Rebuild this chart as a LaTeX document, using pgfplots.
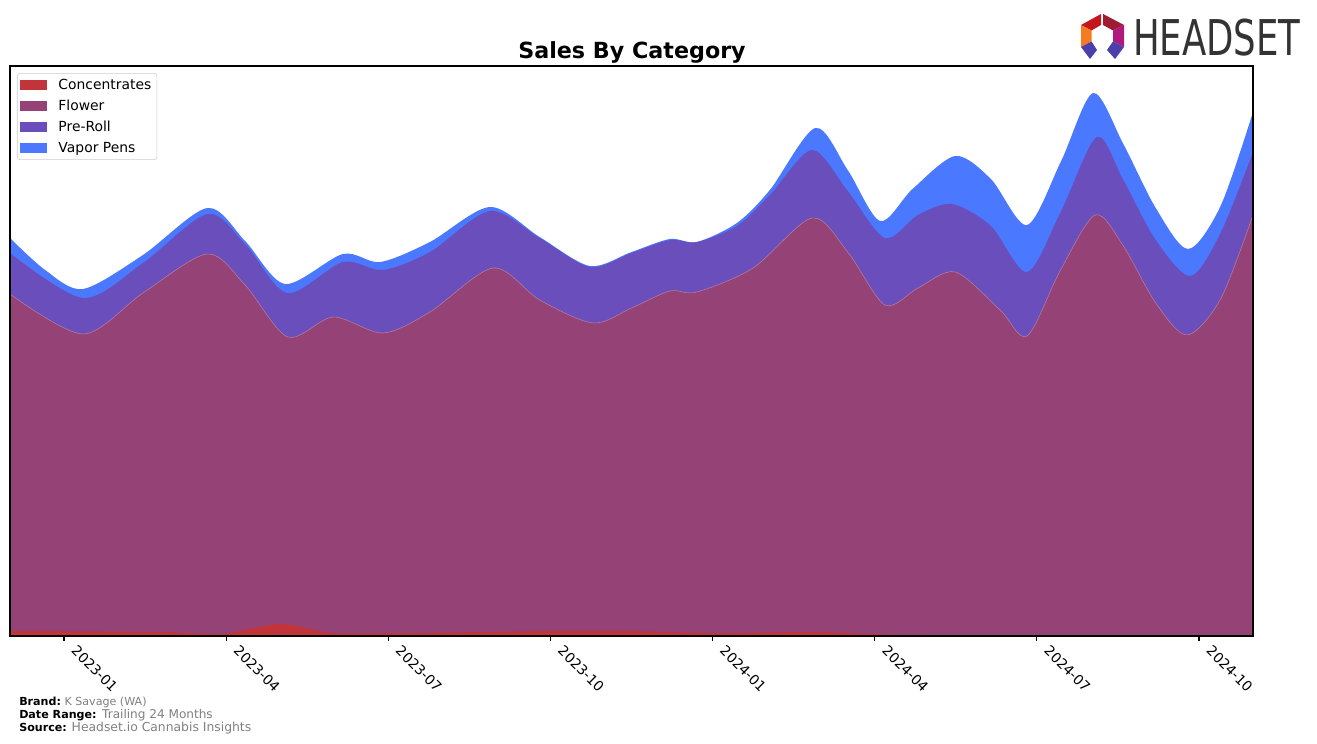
\documentclass[border=0pt]{standalone}
\usepackage{fontspec}
\setmainfont{DejaVu Sans}
\usepackage{pgfplots}
\pgfplotsset{compat=1.18}

\definecolor{conc}{RGB}{192,52,58}
\definecolor{flower}{RGB}{149,66,119}
\definecolor{preroll}{RGB}{106,79,188}
\definecolor{vapor}{RGB}{74,120,255}
\definecolor{footgray}{RGB}{128,128,128}
\definecolor{logogray}{RGB}{51,51,51}
\definecolor{logoA}{RGB}{196,22,28}
\definecolor{logoB}{RGB}{158,27,50}
\definecolor{logoC}{RGB}{176,25,126}
\definecolor{logoD}{RGB}{244,123,32}
\definecolor{logoE}{RGB}{75,63,170}

\begin{document}
\begin{tikzpicture}
% page = 1317 x 744 px, 1 px = 0.72 pt, axis origin at px (10,636)
\path[use as bounding box] (-7.2pt,-77.76pt) rectangle (941.04pt,457.92pt);

\begin{axis}[
  at={(0pt,0pt)}, anchor=south west,
  scale only axis, width=894.96pt, height=410.4pt,
  xmin=0, xmax=23, ymin=0, ymax=570,
  axis on top,
  ytick=\empty,
  xtick={1,4,7,10,13,16,19,22},
  xticklabels={2023-01,2023-04,2023-07,2023-10,2024-01,2024-04,2024-07,2024-10},
  xticklabel style={xshift=10pt, yshift=-1pt, rotate=-45, anchor=north west,
    font=\fontsize{10}{12}\selectfont, inner sep=1pt},
  xtick pos=left,
  tick align=outside, major tick length=3.5pt,
  tick style={black, line width=0.8pt},
  axis line style={line width=0.8pt},
  legend style={at={(0.0056,0.9877)}, anchor=north west,
    draw={rgb,255:red,204;green,204;blue,204}, rounded corners=2pt,
    font=\fontsize{10}{12}\selectfont, inner sep=2pt, row sep=2.1pt},
  legend cell align=left,
  reverse legend,
  legend image code/.code={\path[#1,draw=none,sharp corners] (1.5pt,-3.5pt) rectangle (21pt,3.5pt); \path (27pt,0pt);},
]
% cumulative tops (months since 2022-12), drawn back to front
\addplot[fill=vapor, draw=none, smooth] coordinates {
  (0,398) (0.65,366) (1.35,347) (2.46,381) (3.65,428) (4.35,395) (5.09,352)
  (6.16,382) (6.85,374) (7.77,394) (8.88,429) (9.8,399) (10.73,370) (11.5,384)
  (12.21,397) (12.71,394) (13.45,413) (14.06,446) (14.90,508) (15.5,466) (16.10,415)
  (16.7,447) (17.49,480) (18.15,457) (18.82,411) (19.45,475) (20.04,543) (20.6,492)
  (21.2,428) (21.8,387) (22.4,430) (23,524)
} \closedcycle;
\addlegendentry{Vapor Pens}

\addplot[fill=preroll, draw=none, smooth] coordinates {
  (0,383) (1.35,338) (2.46,373) (3.65,422) (4.35,392) (5.13,343) (6.16,374)
  (6.90,366) (7.77,384) (8.88,425) (9.8,398) (10.73,369) (11.5,383) (12.21,396)
  (12.71,394) (13.45,410) (14.06,441) (14.84,486) (15.5,445) (16.19,398) (16.8,421)
  (17.43,432) (18.15,410) (18.82,364) (19.45,425) (20.11,499) (20.6,456) (21.2,396)
  (21.84,360) (22.4,403) (23,484)
} \closedcycle;
\addlegendentry{Pre-Roll}

\addplot[fill=flower, draw=flower!70!white, line width=0.4pt, smooth] coordinates {
  (0,342) (1.35,302) (2.46,343) (3.65,382) (4.35,351) (5.14,299) (5.98,319)
  (6.90,303) (7.77,324) (8.94,368) (9.8,336) (10.79,313) (11.5,328) (12.21,345)
  (12.71,344) (13.75,368) (14.84,418) (15.5,384) (16.19,331) (16.8,348) (17.49,364)
  (18.32,326) (18.82,300) (19.43,365) (20.08,421) (20.6,390) (21.2,333) (21.78,301)
  (22.4,337) (23,421)
} \closedcycle;
\addlegendentry{Flower}

\addplot[fill=conc, draw=none, smooth] coordinates {
  (0,5) (2.8,4) (3.9,2) (5.0,12) (6.0,3) (7.5,3) (10,5) (11.5,5)
  (13,3) (14.8,4) (16,2) (17,1) (23,1)
} \closedcycle;
\addlegendentry{Concentrates}
\end{axis}

\begin{scope}[x=0.72pt, y=-0.72pt, shift={(-7.2pt,457.92pt)}]
  % title
  \node[font=\fontsize{16}{18}\selectfont\bfseries] at (632,52) {Sales By Category};
  % footer
  \node[anchor=west, inner sep=0pt] at (19,702)
    {\fontsize{8}{9}\selectfont\bfseries Brand:\hspace{2.5pt}\mdseries\color{footgray}K Savage (WA)};
  \node[anchor=west, inner sep=0pt] at (19,715)
    {\fontsize{8}{9}\selectfont\bfseries Date Range:\hspace{4pt}\fontsize{8.7}{10}\selectfont\mdseries\color{footgray}Trailing 24 Months};
  \node[anchor=west, inner sep=0pt] at (19,728)
    {\fontsize{8}{9}\selectfont\bfseries Source:\hspace{3.5pt}\fontsize{8.9}{10}\selectfont\mdseries\color{footgray}Headset.io Cannabis Insights};
  % logo
  \fill[logoA] (1101,14) -- (1081,25) -- (1091.5,30.5) -- (1101,25) -- cycle;
  \fill[logoB] (1103,14) -- (1124,25) -- (1113,30.5) -- (1103,25) -- cycle;
  \fill[logoC] (1124,25) -- (1124,47) -- (1113,41.5) -- (1113,30.5) -- cycle;
  \fill[logoD] (1081,25) -- (1081,47) -- (1091.5,41.5) -- (1091.5,30.5) -- cycle;
  \fill[logoE] (1081,47) -- (1091.5,41.5) -- (1097,50) -- (1090,59) -- cycle;
  \fill[logoE] (1124,47) -- (1113,41.5) -- (1107,50) -- (1115,59) -- cycle;
  \node[anchor=west, inner sep=0pt, text=logogray, xscale=0.72, font=\fontsize{35.5}{36}\selectfont]
    at (1133,38) {HEADSET};
\end{scope}
\end{tikzpicture}
\end{document}
